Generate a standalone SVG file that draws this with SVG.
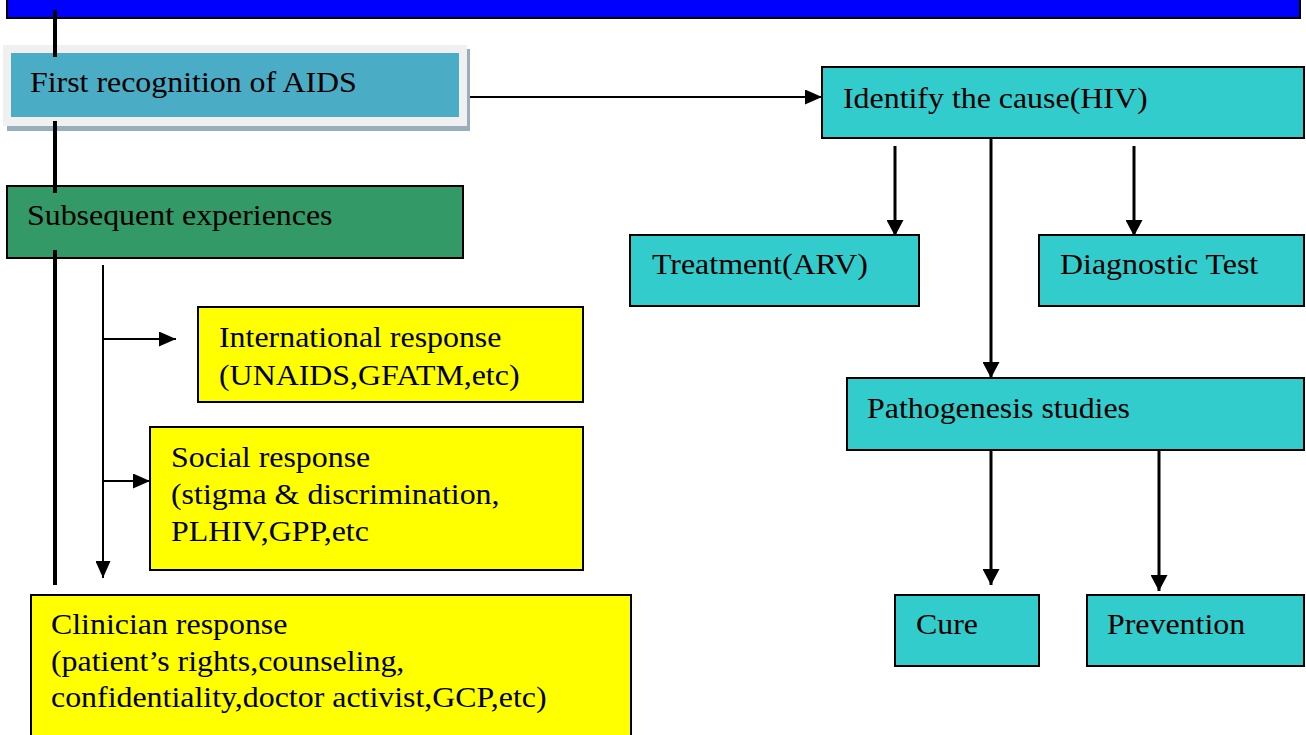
<svg xmlns="http://www.w3.org/2000/svg" width="1306" height="735" viewBox="0 0 1306 735">
<style>
text{font-family:"Liberation Serif","Times New Roman",serif;font-size:29px;fill:#000}
.teal{fill:#33cccc;stroke:#000;stroke-width:2}
.yel{fill:#ffff00;stroke:#000;stroke-width:2}
.thick{stroke:#000;stroke-width:4;fill:none}
.thin{stroke:#000;stroke-width:2;fill:none}
.med{stroke:#000;stroke-width:3;fill:none}
</style>
<defs>
<marker id="ah" viewBox="0 0 10 10" refX="10" refY="5" markerWidth="17" markerHeight="15" markerUnits="userSpaceOnUse" orient="auto" preserveAspectRatio="none">
<path d="M0,0 L10,5 L0,10 Z" fill="#000"/>
</marker>
<marker id="ahb" viewBox="0 0 10 10" refX="10" refY="5" markerWidth="16" markerHeight="17" markerUnits="userSpaceOnUse" orient="auto" preserveAspectRatio="none">
<path d="M0,0 L10,5 L0,10 Z" fill="#000"/>
</marker>
</defs>
<rect x="7" y="-4" width="1293" height="22" fill="#0000ff" stroke="#000" stroke-width="2"/>
<g id="connectors">
<line class="thin" x1="103" y1="265" x2="103" y2="578" marker-end="url(#ah)"/>
<line class="thin" x1="103" y1="339" x2="176" y2="339" marker-end="url(#ah)"/>
<line class="thin" x1="103" y1="481" x2="150" y2="481" marker-end="url(#ah)"/>
<line class="thin" x1="470" y1="97" x2="822" y2="97" marker-end="url(#ah)"/>
<line class="med" x1="895" y1="146" x2="895" y2="236" marker-end="url(#ahb)"/>
<line class="med" x1="1134" y1="146" x2="1134" y2="236" marker-end="url(#ahb)"/>
<line class="med" x1="991" y1="138" x2="991" y2="378" marker-end="url(#ahb)"/>
<line class="med" x1="991" y1="450" x2="991" y2="585" marker-end="url(#ahb)"/>
<line class="med" x1="1159" y1="450" x2="1159" y2="591" marker-end="url(#ahb)"/>
</g>
<g id="first">
<rect x="7" y="49" width="463" height="82" fill="#98aebb"/>
<rect x="3" y="45" width="464" height="81" fill="#f0f0f0"/>
<rect x="11" y="53" width="448" height="64" fill="#4bacc6"/>
<text transform="translate(30,92) scale(1.1,1)">First recognition of AIDS</text>
</g>
<g id="subsequent">
<rect x="7" y="186" width="456" height="72" fill="#339966" stroke="#000" stroke-width="2"/>
<text transform="translate(27,225) scale(1.1,1)">Subsequent experiences</text>
</g>
<g id="spine">
<line class="thick" x1="55" y1="10" x2="55" y2="57"/>
<line class="thick" x1="55" y1="121" x2="55" y2="193"/>
<line class="thick" x1="55" y1="250" x2="55" y2="585"/>
</g>
<g id="international">
<rect class="yel" x="198" y="307" width="385" height="95"/>
<text transform="translate(219,347) scale(1.1,1)">International response</text>
<text transform="translate(219,385) scale(1.1,1)">(UNAIDS,GFATM,etc)</text>
</g>
<g id="social">
<rect class="yel" x="150" y="427" width="433" height="143"/>
<text transform="translate(171,467) scale(1.1,1)">Social response</text>
<text transform="translate(171,504) scale(1.1,1)">(stigma &amp; discrimination,</text>
<text transform="translate(171,541) scale(1.1,1)">PLHIV,GPP,etc</text>
</g>
<g id="clinician">
<rect class="yel" x="31" y="595" width="600" height="150"/>
<text transform="translate(51,634) scale(1.1,1)">Clinician response</text>
<text transform="translate(51,671) scale(1.1,1)">(patient’s rights,counseling,</text>
<text transform="translate(51,707) scale(1.1,1)">confidentiality,doctor activist,GCP,etc)</text>
</g>
<g id="identify">
<rect class="teal" x="822" y="67" width="482" height="71"/>
<text transform="translate(843,108) scale(1.1,1)">Identify the cause(HIV)</text>
</g>
<g id="treatment">
<rect class="teal" x="630" y="235" width="289" height="71"/>
<text transform="translate(652,274) scale(1.1,1)">Treatment(ARV)</text>
</g>
<g id="diagnostic">
<rect class="teal" x="1039" y="235" width="265" height="71"/>
<text transform="translate(1060,274) scale(1.1,1)">Diagnostic Test</text>
</g>
<g id="pathogenesis">
<rect class="teal" x="847" y="378" width="457" height="72"/>
<text transform="translate(867,418) scale(1.1,1)">Pathogenesis studies</text>
</g>
<g id="cure">
<rect class="teal" x="895" y="595" width="144" height="71"/>
<text transform="translate(916,634) scale(1.1,1)">Cure</text>
</g>
<g id="prevention">
<rect class="teal" x="1087" y="595" width="217" height="71"/>
<text transform="translate(1107,634) scale(1.1,1)">Prevention</text>
</g>
</svg>
